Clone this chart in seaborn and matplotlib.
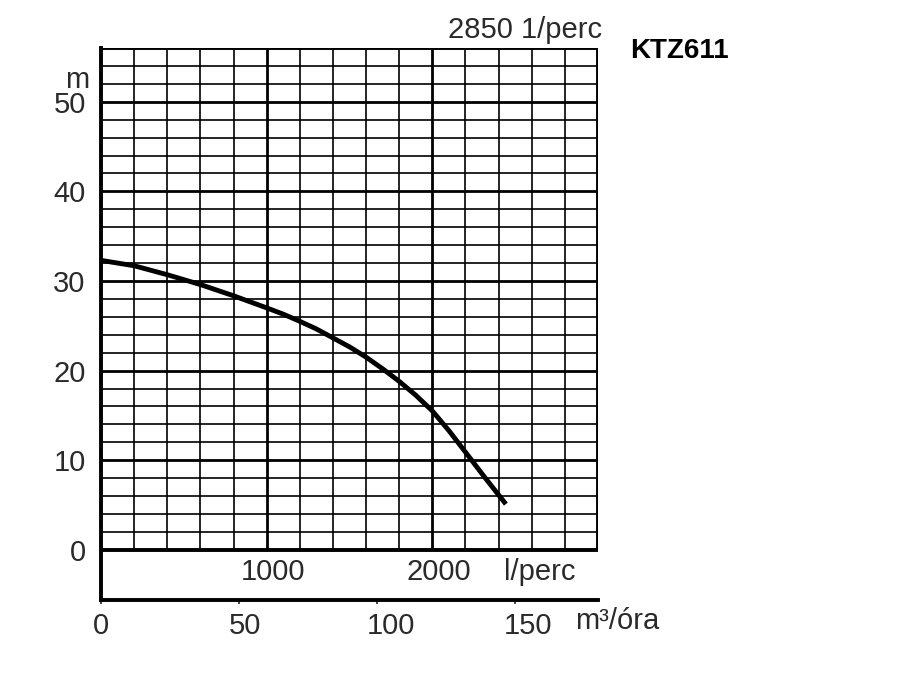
import numpy as np
import pandas as pd
import matplotlib
matplotlib.use('Agg')
import matplotlib.pyplot as plt
import matplotlib.transforms as mtransforms
import seaborn as sns

# pump curve (flow in l/perc, head in m)
flow_lpm = [0, 200, 400, 600, 800, 1000, 1100, 1200, 1300, 1400, 1500, 1600,
            1700, 1800, 1900, 2000, 2100, 2200, 2320, 2444]
head_m = [32.3, 31.7, 30.7, 29.6, 28.35, 27.0, 26.3, 25.5, 24.65, 23.65, 22.65, 21.5,
          20.2, 18.8, 17.25, 15.5, 13.3, 10.9, 8.0, 5.1]

head_ticks = [0, 10, 20, 30, 40, 50]
lpm_labels = [1000, 2000]
m3h_ticks = [0, 50, 100, 150]

x_max = 3000
y_max = 56
y_min = -5.6

df = pd.DataFrame({'flow': flow_lpm, 'head': head_m})

sns.set_style('white')
plt.rcParams['font.family'] = ['Liberation Sans', 'DejaVu Sans']

fig = plt.figure(figsize=(9, 7), dpi=100)
ax = fig.add_axes([101 / 900, 1 - 600 / 700, (598 - 101) / 900, (600 - 48) / 700])
ax.set_xlim(0, x_max)
ax.set_ylim(y_min, y_max)

txt = '#2a2a2a'
fs = 21

# grid only in the chart area (head >= 0)
for xv in np.arange(200, x_max, 200):
    lw = 2.0 if xv % 1000 == 0 else 1.2
    ax.vlines(xv, 0, y_max, colors='black', linewidth=lw, zorder=1)
for yv in np.arange(2, y_max, 2):
    lw = 2.0 if yv % 10 == 0 else 1.2
    ax.hlines(yv, 0, x_max, colors='black', linewidth=lw, zorder=1)

# frame of the grid area
ax.hlines([0, y_max], 0, x_max, colors='black', linewidth=2.8, zorder=2)
ax.vlines(x_max, 0, y_max, colors='black', linewidth=2.8, zorder=2)

sns.lineplot(data=df, x='flow', y='head', ax=ax, color='black', linewidth=3.5,
             solid_capstyle='butt', solid_joinstyle='round', zorder=3)

for s in ['top', 'right']:
    ax.spines[s].set_visible(False)
ax.spines['left'].set_linewidth(2.8)
ax.spines['bottom'].set_linewidth(2.8)
ax.spines['left'].set_color('black')
ax.spines['bottom'].set_color('black')

ax.set_yticks(head_ticks)
ax.set_yticklabels([str(v) for v in head_ticks])
ax.tick_params(axis='y', length=0, pad=11, labelsize=fs, labelcolor=txt)

ax.set_xticks([q * 1000 / 60 for q in m3h_ticks])
ax.set_xticklabels([str(q) for q in m3h_ticks])
ax.tick_params(axis='x', direction='out', length=3, width=1.2, pad=6,
               labelsize=fs, labelcolor=txt, bottom=True)
# labels in the original sit a little right of their ticks
for lab, dx in zip(ax.get_xticklabels(), [0, 6, 14, 13]):
    lab.set_transform(lab.get_transform() +
                      mtransforms.ScaledTranslation(dx / 100, 0, fig.dpi_scale_trans))
ax.set_xlabel('')
ax.set_ylabel('')

for v in lpm_labels:
    ax.text(v + 40, -2.45, str(v), ha='center', va='center', fontsize=fs, color=txt)
ax.text(2650, -2.45, 'l/perc', ha='center', va='center', fontsize=fs, color=txt)

fig.text(617 / 900, 1 - 621 / 700, 'm³/óra', ha='center', va='center', fontsize=fs, color=txt)
fig.text(77 / 900, 1 - 88 / 700, 'm', ha='center', va='baseline', fontsize=fs, color=txt)
fig.text(602 / 900, 1 - 30 / 700, '2850 1/perc', ha='right', va='center', fontsize=fs, color=txt)
fig.text(630 / 900, 1 - 51 / 700, 'KTZ611', ha='left', va='center', fontsize=20,
         color='black', fontweight='bold')

fig.savefig('out.png', dpi=100, facecolor='white')
